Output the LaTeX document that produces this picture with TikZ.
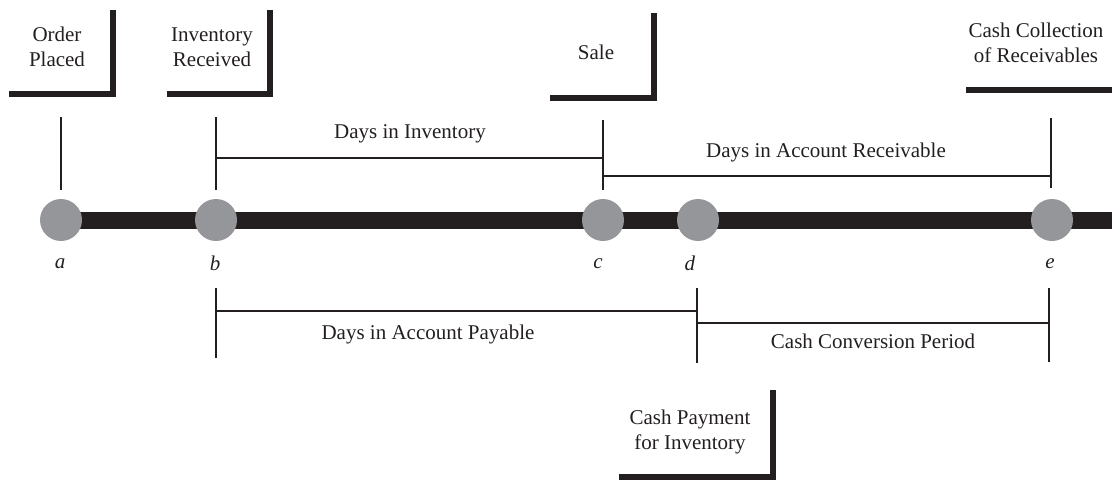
\documentclass[tikz,border=0pt]{standalone}
\usepackage{fontspec}
\setmainfont{Liberation Serif}
\definecolor{dotgray}{RGB}{148,150,153}
\definecolor{inkblack}{RGB}{35,31,32}
\begin{document}
\begin{tikzpicture}[x=0.5pt, y=-0.5pt,
  every node/.style={font=\fontsize{10.5}{12.5}\selectfont, text=inkblack},
  dot/.style={circle, fill=dotgray, minimum size=21pt, inner sep=0pt},
  bar/.style={line width=8.5pt, inkblack},
  tick/.style={line width=1pt, inkblack},
  bracket/.style={line width=3pt, inkblack, line join=miter},
  event/.style={align=center}]
\useasboundingbox (0,0) rectangle (1112,484);
% timeline
\coordinate (T_a) at (61,220);
\coordinate (T_end) at (1112,220);
\draw[bar] (T_a) -- (T_end);
\node[dot] (P_a) at (61,220) {};
\node[dot] (P_b) at (216,220) {};
\node[dot] (P_c) at (603,220) {};
\node[dot] (P_d) at (698,220) {};
\node[dot] (P_e) at (1052,220) {};
\node (L_a) at (60,264) {\textit{a}};
\node (L_b) at (215,263) {\textit{b}};
\node (L_c) at (598,264) {\textit{c}};
\node (L_d) at (690,263) {\textit{d}};
\node (L_e) at (1050,264) {\textit{e}};
% upper ticks
\coordinate (U_a1) at (61,117); \coordinate (U_a2) at (61,190);
\coordinate (U_b1) at (216,117); \coordinate (U_b2) at (216,190);
\coordinate (U_c1) at (603,120); \coordinate (U_c2) at (603,190);
\coordinate (U_e1) at (1051,118); \coordinate (U_e2) at (1051,188);
\draw[tick] (U_a1) -- (U_a2);
\draw[tick] (U_b1) -- (U_b2);
\draw[tick] (U_c1) -- (U_c2);
\draw[tick] (U_e1) -- (U_e2);
\coordinate (S_b) at (216,158); \coordinate (S_c) at (603,158);
\draw[tick] (S_b) -- (S_c);
\node (D_inv) at (410,134) {Days in Inventory};
\coordinate (R_c) at (603,176); \coordinate (R_e) at (1051,176);
\draw[tick] (R_c) -- (R_e);
\node (D_rec) at (826,152) {Days in Account Receivable};
% lower ticks
\coordinate (B_b1) at (216,288); \coordinate (B_b2) at (216,358);
\coordinate (B_d1) at (697,288); \coordinate (B_d2) at (697,363);
\coordinate (B_e1) at (1049,288); \coordinate (B_e2) at (1049,362);
\draw[tick] (B_b1) -- (B_b2);
\draw[tick] (B_d1) -- (B_d2);
\draw[tick] (B_e1) -- (B_e2);
\coordinate (Q_b) at (216,311); \coordinate (Q_d) at (697,311);
\draw[tick] (Q_b) -- (Q_d);
\node (D_pay) at (428,334) {Days in Account Payable};
\coordinate (V_d) at (697,323); \coordinate (V_e) at (1049,323);
\draw[tick] (V_d) -- (V_e);
\node (D_ccp) at (873,341) {Cash Conversion Period};
% events
\node[event] (E_order) at (57,47) {Order\\Placed};
\draw[bracket] (9,94) -- (113,94) -- (113,10);
\node[event] (E_recv) at (212,47) {Inventory\\Received};
\draw[bracket] (167,94) -- (270,94) -- (270,10);
\node[event] (E_sale) at (596,52) {Sale};
\draw[bracket] (550,98) -- (654,98) -- (654,13);
\node[event] (E_coll) at (1036,43) {Cash Collection\\of Receivables};
\draw[bracket] (966,90) -- (1112,90);
\node[event] (E_pay) at (690,432) {Cash Payment\\for Inventory};
\draw[bracket] (619,477) -- (773,477) -- (773,390);
\end{tikzpicture}
\end{document}
